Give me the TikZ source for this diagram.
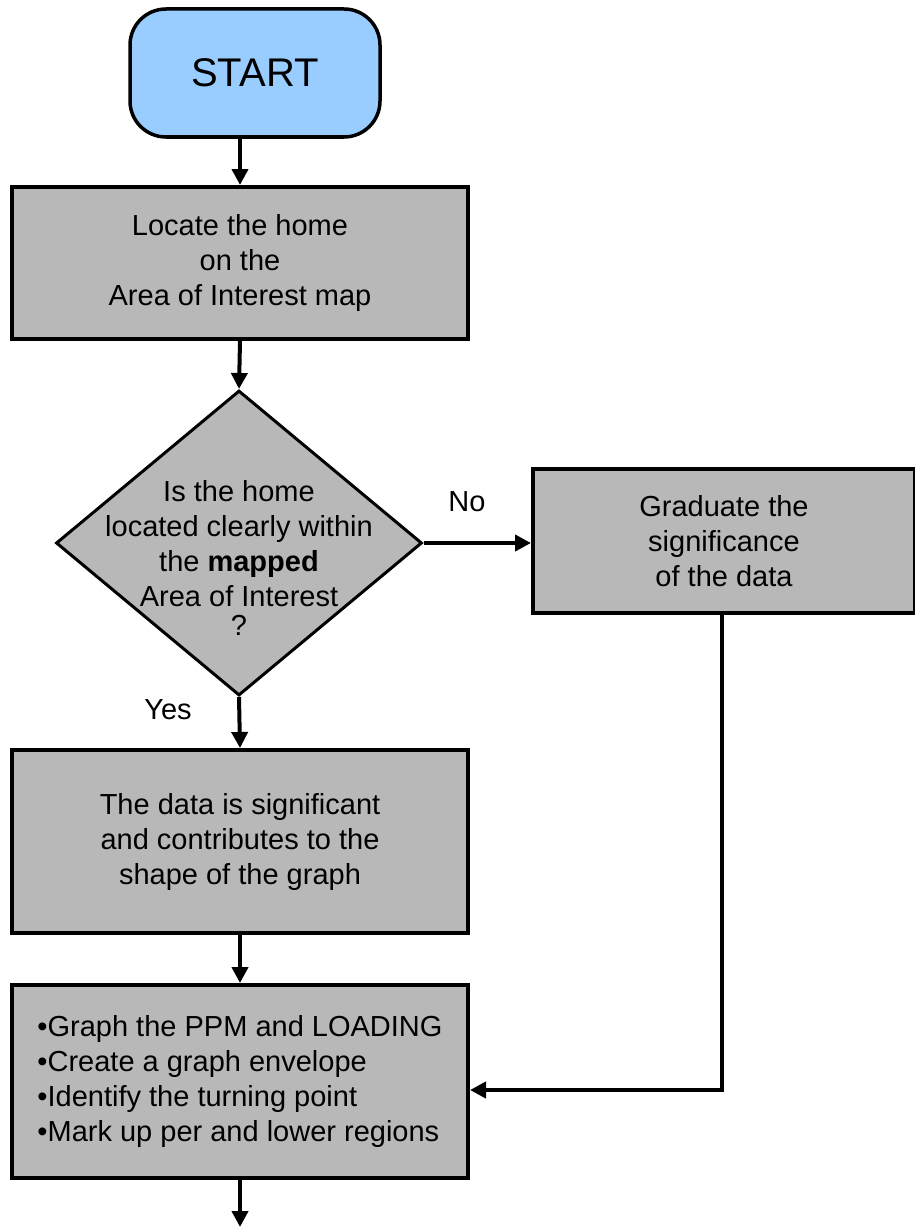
\documentclass[tikz,border=0pt]{standalone}
\usepackage{fontspec}
\setmainfont{Liberation Sans}
\usetikzlibrary{shapes.geometric,arrows.meta}
\definecolor{startblue}{HTML}{99CCFF}
\definecolor{boxgray}{HTML}{B8B8B8}
\begin{document}
\begin{tikzpicture}[x=1pt,y=-1pt,
  every node/.style={font=\fontsize{29}{35}\selectfont},
  procbox/.style={draw=black, line width=4pt, fill=boxgray, minimum width=456pt, align=center, inner sep=0pt},
  arr/.style={line width=4pt, -{Triangle[length=16pt,width=16pt]}},
  lbl/.style={inner sep=0pt}
]
\useasboundingbox (0,0) rectangle (914,1228);
\fill[white] (0,0) rectangle (914,1228);

% START
\node[draw=black, line width=3.5pt, fill=startblue, rounded corners=36pt,
      minimum width=250pt, minimum height=128pt, font=\fontsize{40}{48}\selectfont]
      (start) at (255,73) {START};

% Box 1
\node[procbox, minimum height=152pt] (box1) at (240,263)
  {Locate the home\\on the\\Area of Interest map};

% Decision
\node[diamond, draw=black, line width=3pt, fill=boxgray, inner sep=0pt,
      minimum width=366pt, minimum height=305pt] (dec) at (239,543) {};
\node[lbl, align=center] (dectext) at (239,558)
  {Is the home\\located clearly within\\the \textbf{mapped}\\Area of Interest\\[-6pt]?};

% Graduate box
\node[procbox, minimum width=382pt, minimum height=144pt] (grad) at (724,541)
  {Graduate the\\significance\\of the data};

% Box 3
\node[procbox, minimum height=183pt] (box3) at (240,841.5)
  {The data is significant\\and contributes to the\\shape of the graph};

% Box 4
\node[procbox, minimum height=193pt, align=left] (box4) at (240,1081.5)
  {\textbullet Graph the PPM and LOADING\\\textbullet Create a graph envelope\\\textbullet Identify the turning point\\\textbullet Mark up per and lower regions};

% Labels
\node[lbl] (no) at (467,502) {No};
\node[lbl] (yes) at (168,710) {Yes};

% Connectors
\coordinate (j) at (722,1090);
\coordinate (endpt) at (240,1227);
\draw[arr] (start.south -| box1.north) -- (box1.north);
\draw[arr] (box1.south) -- (dec.north);
\draw[arr] (dec.east) -- (dec.east -| grad.west);
\draw[arr] (dec.south) -- (box3.north);
\draw[arr] (box3.south) -- (box4.north);
\draw[arr] (grad.south -| j) -- (j) -- (box4.east |- j);
\draw[arr] (box4.south) -- (endpt);
\end{tikzpicture}
\end{document}
